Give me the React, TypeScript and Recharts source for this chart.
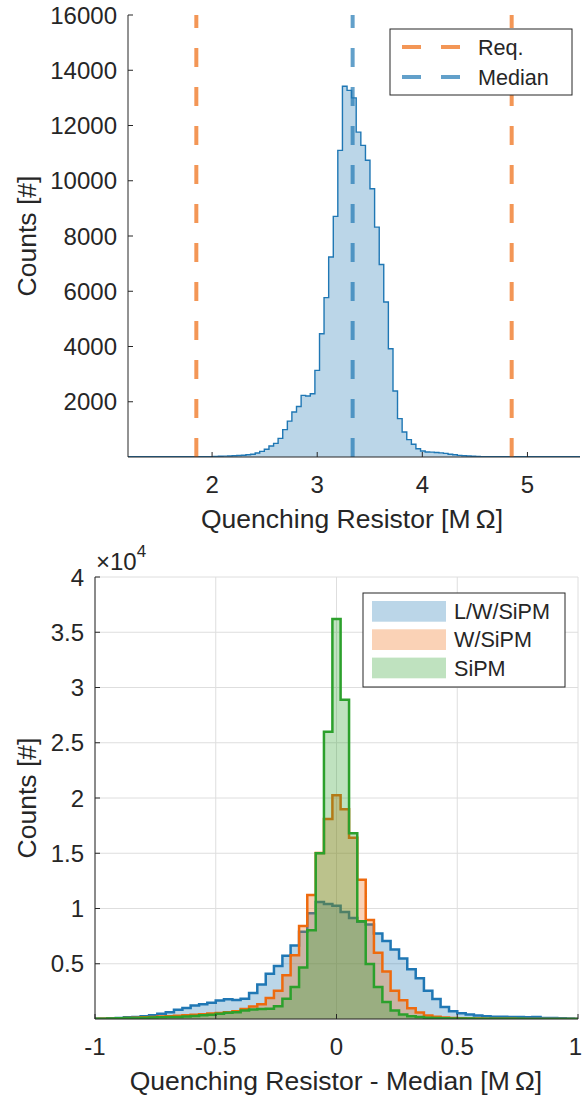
import React from "react";
import { AreaChart, Area, XAxis, YAxis, CartesianGrid, ReferenceLine } from "recharts";

const FONT = '"Liberation Sans", Arial, Helvetica, sans-serif';
const INK = "#262626";
const BLUE = "#1F77B4";
const ORANGE = "#EE6A0E";
const GREEN = "#2CA02C";

// ---- top panel: quenching resistor histogram ----
const rqEdges = [
  1.2, 2.016, 2.06, 2.104, 2.148, 2.191, 2.235, 2.279, 2.322, 2.366, 2.41, 2.453, 2.497, 2.541, 2.585,
  2.628, 2.672, 2.716, 2.759, 2.803, 2.847, 2.89, 2.934, 2.978, 3.022, 3.065, 3.109, 3.153, 3.196, 3.24,
  3.284, 3.327, 3.371, 3.415, 3.459, 3.502, 3.546, 3.59, 3.633, 3.677, 3.721, 3.764, 3.808, 3.852, 3.896,
  3.939, 3.983, 4.027, 4.07, 4.114, 4.158, 4.201, 4.245, 4.289, 4.333, 4.376, 4.42, 4.464, 4.507, 4.551, 5.5,
];
const rqCounts = [
  10, 20, 25, 30, 35, 45, 55, 65, 80, 100, 145, 205, 280, 400, 495, 675, 990, 1300, 1630, 1830, 2230,
  2210, 2290, 3135, 4460, 5770, 7240, 8710, 11100, 13420, 13270, 13000, 11760, 11280, 10740, 9710, 8320,
  6970, 5610, 3920, 2390, 1390, 905, 630, 460, 300, 217, 180, 175, 165, 150, 130, 100, 80, 60, 45, 35,
  25, 20, 10,
];
const rqTicksX = [2, 3, 4, 5];
const rqTicksY = [2000, 4000, 6000, 8000, 10000, 12000, 14000, 16000];
const reqLimits = [1.85, 4.85];
const rqMedian = 3.337;

// ---- bottom panel: resistor minus median, three stages ----
const devEdges = [
  -1.018, -0.983, -0.949, -0.914, -0.88, -0.845, -0.811, -0.776, -0.742, -0.707, -0.673, -0.638, -0.604,
  -0.569, -0.535, -0.5, -0.466, -0.431, -0.397, -0.362, -0.328, -0.293, -0.259, -0.224, -0.19, -0.155,
  -0.121, -0.086, -0.052, -0.017, 0.017, 0.052, 0.086, 0.121, 0.155, 0.19, 0.224, 0.259, 0.293, 0.328,
  0.362, 0.397, 0.431, 0.466, 0.5, 0.535, 0.569, 0.604, 0.638, 0.673, 0.707, 0.742, 0.776, 0.811, 0.845,
  0.88, 0.914, 0.949, 0.983, 1.018,
];
const lwSipm = [
  20, 30, 60, 100, 150, 170, 260, 350, 470, 600, 830, 1000, 1230, 1330, 1460, 1680, 1780, 1720, 1830,
  2350, 3120, 4100, 4790, 5720, 6650, 7890, 9560, 10580, 10410, 10240, 9680, 9150, 8800, 8550, 7740,
  7070, 6290, 5470, 4500, 3680, 2550, 1800, 1080, 712, 530, 410, 320, 260, 200, 200, 170, 170, 160, 170,
  100, 80, 60, 40, 30,
];
const wSipm = [
  10, 20, 30, 50, 80, 110, 150, 180, 220, 260, 300, 340, 390, 440, 490, 540, 600, 700, 900, 1140, 1330,
  1900, 2550, 3950, 5770, 8420, 11220, 15030, 18100, 20250, 18980, 16400, 12600, 8950, 6000, 4300, 2550,
  1700, 970, 580, 320, 200, 140, 100, 70, 50, 40, 30, 25, 20, 15, 10, 10, 10, 5, 5, 5, 0, 0,
];
const sipm = [
  20, 30, 40, 60, 80, 100, 120, 140, 160, 180, 190, 220, 270, 330, 390, 470, 560, 620, 780, 850, 900,
  920, 1150, 1830, 2890, 4650, 8040, 15000, 26000, 36200, 28900, 16800, 8850, 4980, 2890, 1530, 770,
  400, 250, 170, 110, 80, 60, 50, 40, 35, 30, 25, 20, 20, 15, 15, 10, 10, 10, 5, 5, 5, 5,
];
const devTicksX = [-1, -0.5, 0, 0.5, 1];
const devTicksY = [5000, 10000, 15000, 20000, 25000, 30000, 35000, 40000];
const devNames = ["L/W/SiPM", "W/SiPM", "SiPM"];

// stairs: a zero point at the first edge, one point per bin, a closing zero
function stairs(edges: number[], series: Record<string, number[]>) {
  const keys = Object.keys(series);
  const zero: any = { x: edges[0] };
  keys.forEach((k) => (zero[k] = 0));
  const rows: any[] = [zero];
  for (let i = 0; i < edges.length - 1; i++) {
    const r: any = { x: edges[i] };
    keys.forEach((k) => (r[k] = series[k][i]));
    rows.push(r);
  }
  const end: any = { x: edges[edges.length - 1] };
  keys.forEach((k) => (end[k] = 0));
  rows.push(end);
  return rows;
}

function AxisTick(props: any) {
  const { x, y, payload, side, fmt } = props;
  const L = 5;
  const txt = fmt ? fmt(payload.value) : null;
  const t = { fontSize: 24, fill: INK, fontFamily: FONT };
  if (side === "bottom") {
    // keep the last label inside the page
    const half = txt ? (txt.length * 13.3) / 2 : 0;
    const tx = Math.min(x, 582 - half);
    return (
      <g>
        <line x1={x} y1={y} x2={x} y2={y - L} stroke={INK} />
        {txt !== null && (
          <text x={tx} y={y + 27} textAnchor="middle" dominantBaseline="central" {...t}>{txt}</text>
        )}
      </g>
    );
  }
  if (side === "top") return <line x1={x} y1={y} x2={x} y2={y + L} stroke={INK} />;
  if (side === "left")
    return (
      <g>
        <line x1={x} y1={y} x2={x + L} y2={y} stroke={INK} />
        {txt !== null && (
          <text x={x - 11} y={y} textAnchor="end" dominantBaseline="central" {...t}>{txt}</text>
        )}
      </g>
    );
  return <line x1={x} y1={y} x2={x - L} y2={y} stroke={INK} />;
}

const axisBase = { tickLine: false, tickSize: 0, tickMargin: 0, interval: 0 as const, axisLine: { stroke: INK } };

export default function App() {
  const topRows = stairs(rqEdges, { c: rqCounts });
  const devRows = stairs(devEdges, { a: lwSipm, b: wSipm, g: sipm });
  const xDom: [number, number] = [1.2, 5.5];
  const dDom: [number, number] = [-1, 1];

  return (
    <div style={{ position: "absolute", left: 0, top: 0, width: 583, height: 1097, background: "#fff" }}>
      <div style={{ position: "absolute", left: 0, top: 0 }}>
        <AreaChart width={583} height={545} data={topRows} margin={{ top: 15, right: 3, left: 0, bottom: 0 }}>
          <Area
            type="stepAfter"
            dataKey="c"
            stroke={BLUE}
            strokeWidth={1.4}
            fill={BLUE}
            fillOpacity={0.3}
            dot={false}
            activeDot={false}
            isAnimationActive={false}
          />
          {reqLimits.map((v) => (
            <ReferenceLine key={v} x={v} stroke={ORANGE} strokeOpacity={0.7} strokeWidth={4} strokeDasharray="19 20" />
          ))}
          <ReferenceLine x={rqMedian} stroke={BLUE} strokeOpacity={0.7} strokeWidth={4} strokeDasharray="19 20" />
          <XAxis
            dataKey="x"
            type="number"
            domain={xDom}
            ticks={rqTicksX}
            allowDataOverflow
            height={88}
            {...axisBase}
            tick={(p: any) => <AxisTick {...p} side="bottom" fmt={(v: number) => String(v)} />}
          />
          <XAxis xAxisId="t" orientation="top" type="number" domain={xDom} ticks={rqTicksX} allowDataOverflow height={0}
            {...axisBase} tick={(p: any) => <AxisTick {...p} side="top" />} />
          <YAxis
            type="number"
            domain={[0, 16000]}
            ticks={rqTicksY}
            allowDataOverflow
            width={128}
            {...axisBase}
            tick={(p: any) => <AxisTick {...p} side="left" fmt={(v: number) => String(v)} />}
          />
          <YAxis yAxisId="r" orientation="right" type="number" domain={[0, 16000]} ticks={rqTicksY} allowDataOverflow width={0}
            {...axisBase} tick={(p: any) => <AxisTick {...p} side="right" />} />
        </AreaChart>
      </div>

      <div style={{ position: "absolute", left: 0, top: 545 }}>
        <AreaChart width={583} height={552} data={devRows} margin={{ top: 32, right: 5, left: 0, bottom: 0 }}>
          <CartesianGrid stroke="#DEDEDE" />
          <Area type="stepAfter" dataKey="a" stroke={BLUE} strokeWidth={2.5} fill={BLUE} fillOpacity={0.3}
            dot={false} activeDot={false} isAnimationActive={false} />
          <Area type="stepAfter" dataKey="b" stroke={ORANGE} strokeWidth={2.5} fill={ORANGE} fillOpacity={0.3}
            dot={false} activeDot={false} isAnimationActive={false} />
          <Area type="stepAfter" dataKey="g" stroke={GREEN} strokeWidth={2.5} fill={GREEN} fillOpacity={0.3}
            dot={false} activeDot={false} isAnimationActive={false} />
          <XAxis
            dataKey="x"
            type="number"
            domain={dDom}
            ticks={devTicksX}
            allowDataOverflow
            height={78}
            {...axisBase}
            tick={(p: any) => <AxisTick {...p} side="bottom" fmt={(v: number) => String(v)} />}
          />
          <XAxis xAxisId="t" orientation="top" type="number" domain={dDom} ticks={devTicksX} allowDataOverflow height={0}
            {...axisBase} tick={(p: any) => <AxisTick {...p} side="top" />} />
          <YAxis
            type="number"
            domain={[0, 40000]}
            ticks={devTicksY}
            allowDataOverflow
            width={95}
            {...axisBase}
            tick={(p: any) => <AxisTick {...p} side="left" fmt={(v: number) => String(v / 10000)} />}
          />
          <YAxis yAxisId="r" orientation="right" type="number" domain={[0, 40000]} ticks={devTicksY} allowDataOverflow width={0}
            {...axisBase} tick={(p: any) => <AxisTick {...p} side="right" />} />
        </AreaChart>
      </div>

      <svg width={583} height={1097} style={{ position: "absolute", left: 0, top: 0, pointerEvents: "none" }}
        fontFamily={FONT} fill={INK}>
        {/* axis titles */}
        <text x={27} y={236} fontSize={26.5} textAnchor="middle" dominantBaseline="central" transform="rotate(-90 27 236)">
          Counts [#]
        </text>
        <text x={352} y={519} fontSize={26.5} textAnchor="middle" dominantBaseline="central">
          Quenching Resistor [M{"\u2009"}Ω]
        </text>
        <text x={27} y={798} fontSize={26.5} textAnchor="middle" dominantBaseline="central" transform="rotate(-90 27 798)">
          Counts [#]
        </text>
        <text x={336} y={1081} fontSize={26.5} textAnchor="middle" dominantBaseline="central">
          Quenching Resistor - Median [M{"\u2009"}Ω]
        </text>
        <text x={96} y={570} fontSize={24}>
          ×10<tspan dy={-13} fontSize={17}>4</tspan>
        </text>

        {/* top legend */}
        <rect x={390} y={29} width={182} height={66} fill="#fff" stroke={INK} strokeWidth={1} />
        <line x1={460} y1={47} x2={400} y2={47} stroke={ORANGE} strokeOpacity={0.7} strokeWidth={4} strokeDasharray="19 20" />
        <line x1={460} y1={77} x2={400} y2={77} stroke={BLUE} strokeOpacity={0.7} strokeWidth={4} strokeDasharray="19 20" />
        <text x={478} y={47} fontSize={21.6} dominantBaseline="central">Req.</text>
        <text x={478} y={77} fontSize={21.6} dominantBaseline="central">Median</text>

        {/* bottom legend */}
        <rect x={363} y={593} width={202} height={94} fill="#fff" stroke={INK} strokeWidth={1} />
        {[BLUE, ORANGE, GREEN].map((c, i) => (
          <g key={c}>
            <rect x={372} y={601 + i * 28.3} width={74} height={20.7} fill={c} fillOpacity={0.3} />
            <text x={454} y={611.5 + i * 28.3} fontSize={21.6} dominantBaseline="central">{devNames[i]}</text>
          </g>
        ))}
      </svg>
    </div>
  );
}
